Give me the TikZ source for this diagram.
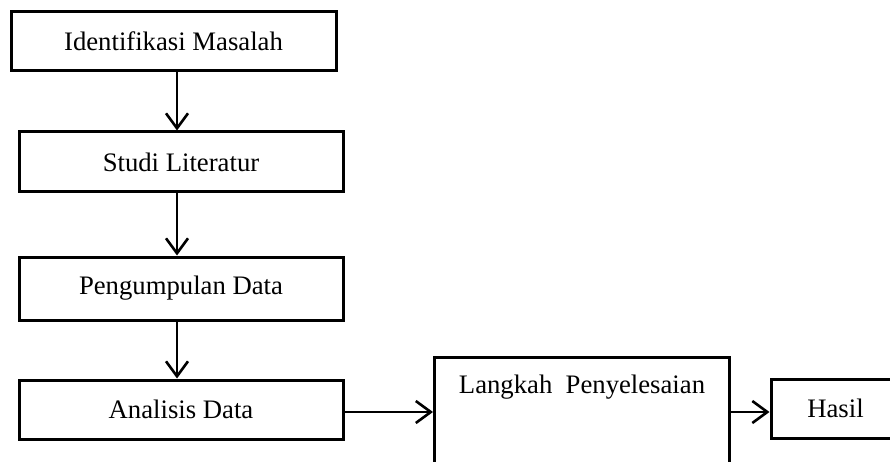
\documentclass[tikz,border=0pt]{standalone}
\usepackage{fontspec}
\setmainfont{Liberation Serif}
\usetikzlibrary{arrows.meta}
\begin{document}
\begin{tikzpicture}[x=1pt,y=-1pt,
  box/.style={draw, line width=3pt, rectangle, inner sep=0pt, font=\fontsize{26.7}{32}\selectfont},
  arr/.style={line width=2.6pt, -{Straight Barb[length=15pt,width=22pt,line width=2.6pt]}}]
\useasboundingbox (0,0) rectangle (890,462);
\fill[white] (0,0) rectangle (890,462);
\clip (0,0) rectangle (890,462);
\node[box, minimum width=325pt, minimum height=59pt] (ident) at (173.5,41.5) {Identifikasi Masalah};
\node[box, minimum width=324pt, minimum height=60pt] (studi) at (181,162) {Studi Literatur};
\node[box, minimum width=324pt, minimum height=63pt] (kumpul) at (181,288.5) {Pengumpulan Data};
\node[box, minimum width=324pt, minimum height=59pt] (analisis) at (181,409.5) {Analisis Data};
\node[box, anchor=north west, minimum width=295pt, text height=36pt, text depth=128pt] (langkah) at (433,356) {Langkah\ \ Penyelesaian};
\node[box, minimum width=129pt, minimum height=59pt] (hasil) at (835.5,408.5) {Hasil};
\coordinate (ax) at (177,0);
\coordinate (hy) at (0,412);
\draw[arr] (ident.south -| ax) -- (studi.north -| ax);
\draw[arr] (studi.south -| ax) -- (kumpul.north -| ax);
\draw[arr] (kumpul.south -| ax) -- (analisis.north -| ax);
\draw[arr] (analisis.east |- hy) -- (langkah.west |- hy);
\draw[arr] (langkah.east |- hy) -- (hasil.west |- hy);
\end{tikzpicture}
\end{document}
